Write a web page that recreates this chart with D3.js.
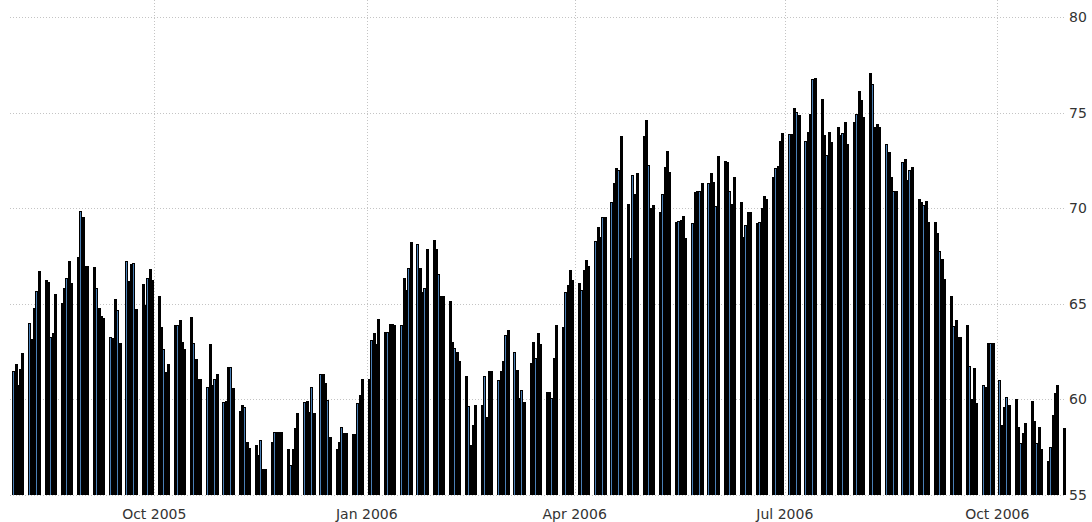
<!DOCTYPE html>
<html>
<head>
<meta charset="utf-8">
<script src="https://cdn.jsdelivr.net/npm/d3@7"></script>
<style>
  html, body { margin: 0; padding: 0; background: #fff; }
  svg { display: block; }
  text { font-family: "DejaVu Sans", sans-serif; font-size: 14px; fill: #333; }
</style>
</head>
<body>
<svg id="chart" width="1092" height="522"></svg>
<script>
// ---- data (one value per trading weekday, starting Mon 2005-08-01) ----
const startDate = "2005-08-01";
const prices = [
  61.50, 61.85, 60.75, 61.59, 62.43,
  63.98, 63.14, 64.80, 65.65, 66.72,
  66.24, 66.16, 63.28, 63.45, 65.49,
  65.02, 65.81, 66.33, 67.24, 66.07,
  67.43, 69.87, 69.56, 67.00, 67.00,
  66.91, 65.81, 64.80, 64.38, 64.24,
  63.28, 63.20, 65.23, 64.68, 62.97,
  67.26, 66.21, 67.06, 67.12, 64.73,
  66.02, 64.94, 66.33, 66.82, 66.24,
  65.41, 63.77, 62.64, 61.42, 61.84,
  63.89, 63.89, 64.15, 63.02, 62.62,
  64.29, 62.96, 62.11, 61.06, 61.06,
  60.66, 62.88, 60.75, 61.06, 61.33,
  59.84, 59.91, 61.69, 61.67, 60.58,
  59.39, 59.70, 59.62, 57.79, 57.47,
  57.61, 57.09, 57.87, 56.36, 56.36,
  57.79, 58.31, 58.31, 58.31, 58.31,
  57.39, 56.57, 57.39, 58.48, 59.30,
  59.88, 59.93, 59.32, 60.66, 59.27,
  61.33, 61.33, 60.84, 59.97, 58.05,
  57.39, 57.79, 58.54, 58.22, 58.22,
  58.19, 58.19, 59.79, 60.23, 61.07,
  61.07, 63.11, 63.45, 62.88, 64.20,
  63.54, 63.54, 63.94, 63.94, 63.89,
  63.89, 66.33, 65.72, 66.85, 68.21,
  68.11, 66.85, 65.63, 65.84, 67.85,
  68.34, 67.85, 66.56, 65.42, 65.42,
  65.15, 63.02, 62.70, 62.50, 62.01,
  61.24, 59.65, 57.61, 58.66, 59.71,
  59.71, 61.24, 59.06, 61.48, 61.48,
  61.01, 61.48, 62.01, 63.37, 63.63,
  62.46, 61.54, 60.06, 60.49, 59.88,
  61.89, 63.02, 62.15, 63.46, 62.88,
  60.41, 60.41, 60.09, 62.19, 63.89,
  63.81, 65.64, 65.99, 66.77, 66.25,
  66.07, 65.72, 66.77, 67.28, 67.00,
  68.29, 69.04, 68.51, 69.54, 69.54,
  70.31, 71.30, 72.09, 71.98, 73.78,
  70.22, 67.38, 71.74, 70.75, 71.83,
  73.78, 74.62, 72.26, 70.00, 70.17,
  69.79, 70.73, 72.17, 73.01, 71.91,
  69.30, 69.33, 69.39, 69.61, 68.46,
  69.21, 70.83, 70.90, 70.90, 71.30,
  71.34, 71.82, 71.39, 70.13, 72.75,
  72.49, 72.43, 70.90, 70.20, 71.65,
  70.31, 68.51, 69.12, 69.82, 69.82,
  69.21, 69.30, 70.03, 70.66, 70.46,
  71.65, 72.12, 72.21, 73.52, 73.95,
  73.86, 73.86, 75.22, 75.05, 74.90,
  73.52, 74.00, 74.93, 76.76, 76.79,
  75.69, 73.83, 72.78, 74.00, 73.48,
  74.27, 73.83, 73.92, 74.53, 73.34,
  74.53, 74.93, 76.15, 75.66, 74.79,
  77.05, 76.48, 74.27, 74.39, 74.27,
  73.34, 72.92, 71.65, 70.91, 70.91,
  72.43, 72.57, 71.47, 71.99, 72.17,
  70.48, 70.34, 70.16, 70.39, 69.29,
  69.29, 68.68, 67.76, 67.32, 66.29,
  65.40, 63.84, 64.15, 63.28, 63.28,
  63.89, 61.74, 60.00, 61.62, 59.79,
  60.75, 60.66, 62.96, 62.96, 62.93,
  61.01, 58.66, 59.58, 60.10, 59.70,
  60.00, 58.57, 57.70, 58.22, 58.74,
  59.91, 58.88, 57.73, 58.57, 57.39,
  56.79, 57.52, 59.18, 60.35, 60.75,
  58.48
];
const xTickDates = ["2005-10-01", "2006-01-01", "2006-04-01", "2006-07-01", "2006-10-01"];
const xTickLabels = ["Oct 2005", "Jan 2006", "Apr 2006", "Jul 2006", "Oct 2006"];
const yTicks = [55, 60, 65, 70, 75, 80];

// ---- build trading-day dates (weekdays) ----
const parse = d3.utcParse("%Y-%m-%d");
const dates = [];
{
  let d = parse(startDate);
  while (dates.length < prices.length) {
    const wd = d.getUTCDay();
    if (wd !== 0 && wd !== 6) dates.push(new Date(d));
    d = d3.utcDay.offset(d, 1);
  }
}

// ---- layout ----
const svg = d3.select("#chart");
const plotLeft = 10, plotRight = 1066, plotTop = 17, plotBottom = 495;

const x = d3.scaleUtc()
  .domain([parse(xTickDates[0]), parse(xTickDates[4])])
  .range([154.3, 997.3]);
const y = d3.scaleLinear().domain([55, 80]).range([plotBottom, plotTop]);
const dayW = x(d3.utcDay.offset(parse(xTickDates[0]), 1)) - x(parse(xTickDates[0]));

// pixel-snapped bar geometry
const data = prices.map((v, i) => ({
  date: dates[i],
  value: v,
  left: Math.round(x(dates[i]) - dayW / 2),
  top: Math.round(y(v))
}));
data.forEach((d, i) => {
  const n = data[i + 1];
  d.showFill = !!n && (n.date - d.date === 864e5) && (n.left - d.left >= 3);
});

// gridlines
const grid = svg.append("g").attr("stroke", "#c4c4c4").attr("stroke-dasharray", "1,2").attr("stroke-width", 1);
grid.selectAll("line.h").data(yTicks).join("line")
  .attr("x1", plotLeft).attr("x2", plotRight)
  .attr("y1", d => Math.round(y(d)) + 0.5).attr("y2", d => Math.round(y(d)) + 0.5);
grid.selectAll("line.v").data(xTickDates).join("line")
  .attr("x1", d => Math.round(x(parse(d))) + 0.5).attr("x2", d => Math.round(x(parse(d))) + 0.5)
  .attr("y1", 0).attr("y2", plotBottom);

// bars: black outlined columns with steel-blue interior where it shows
const bars = svg.append("g").attr("shape-rendering", "crispEdges");
const bar = bars.selectAll("g").data(data).join("g");
bar.append("rect")
  .attr("x", d => d.left)
  .attr("width", 3)
  .attr("y", d => d.top)
  .attr("height", d => plotBottom - d.top)
  .attr("fill", "#000");
bar.filter(d => d.showFill).append("rect")
  .attr("x", d => d.left + 1)
  .attr("width", 1)
  .attr("y", d => d.top + 1)
  .attr("height", d => plotBottom - d.top - 1)
  .attr("fill", "#4a7fb5");

// y labels (right)
svg.append("g").selectAll("text").data(yTicks).join("text")
  .attr("x", 1069).attr("y", d => y(d)).attr("dy", "0.35em")
  .text(d => d);

// x labels
svg.append("g").selectAll("text").data(xTickDates).join("text")
  .attr("x", d => x(parse(d))).attr("y", 519)
  .attr("text-anchor", "middle")
  .text((d, i) => xTickLabels[i]);
</script>
</body>
</html>
